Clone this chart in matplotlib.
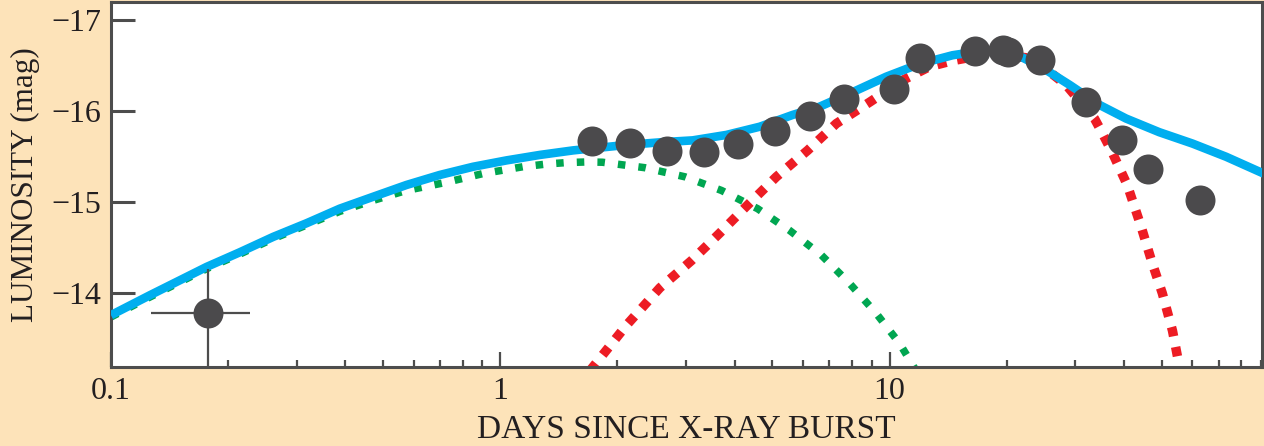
import matplotlib.pyplot as plt
from matplotlib.ticker import FixedLocator, NullFormatter, FixedFormatter

# observed points (days, magnitude)
obs_days = [1.72, 2.15, 2.68, 3.33, 4.09, 5.07, 6.23, 7.62, 10.24, 11.94,
            16.6, 19.6, 20.2, 24.4, 31.9, 39.6, 46.2, 62.9]
obs_mag = [-15.67, -15.65, -15.56, -15.55, -15.64, -15.78, -15.95, -16.13, -16.24, -16.58,
           -16.66, -16.67, -16.65, -16.56, -16.10, -15.68, -15.37, -15.02]

# early point with error bars
early_day = 0.177
early_mag = -13.78
early_xlo, early_xhi = 0.127, 0.228
early_ylo, early_yhi = -14.27, -13.0

# total model (blue)
tot_days = [0.1, 0.126, 0.153, 0.176, 0.214, 0.261, 0.318, 0.387, 0.471, 0.574, 0.699,
            0.851, 1.037, 1.263, 1.538, 1.80, 2.11, 2.60, 3.12, 3.81, 4.64, 5.64, 6.61,
            8.04, 9.81, 11.94, 14.51, 17.0, 19.2, 21.96, 25.3, 29.0, 34.6, 40.5, 49.3,
            60.0, 73.2, 92.0]
tot_mag = [-13.76, -13.98, -14.16, -14.29, -14.45, -14.62, -14.77, -14.93, -15.06, -15.19,
           -15.30, -15.39, -15.46, -15.52, -15.57, -15.60, -15.63, -15.66, -15.68, -15.74,
           -15.83, -15.96, -16.05, -16.21, -16.38, -16.52, -16.615, -16.66, -16.665, -16.59,
           -16.45, -16.29, -16.07, -15.92, -15.77, -15.645, -15.50, -15.31]

# cooling component (green)
cool_days = [0.1, 0.126, 0.153, 0.176, 0.214, 0.261, 0.318, 0.387, 0.471, 0.574, 0.728,
             0.902, 1.142, 1.314, 1.479, 1.665, 1.83, 2.35, 2.98, 3.70, 4.58, 5.54,
             6.68, 7.89, 9.24, 10.61, 11.7]
cool_mag = [-13.74, -13.96, -14.14, -14.27, -14.43, -14.60, -14.75, -14.90, -15.02, -15.13,
            -15.22, -15.315, -15.39, -15.42, -15.436, -15.443, -15.44, -15.38, -15.28,
            -15.13, -14.93, -14.69, -14.42, -14.11, -13.78, -13.45, -13.15]

# radioactive component (red)
rad_days = [1.70, 2.11, 2.57, 3.10, 3.66, 4.32, 5.12, 6.16, 7.30, 8.04, 8.89, 10.80, 12.67,
            14.51, 16.5, 19.2, 23.3, 28.4, 33.6, 35.2, 37.4, 40.8, 44.3, 47.3, 50.2, 53.3,
            55.8]
rad_mag = [-13.15, -13.65, -14.06, -14.36, -14.66, -14.97, -15.28, -15.57, -15.865, -15.98,
           -16.10, -16.34, -16.49, -16.555, -16.60, -16.62, -16.58, -16.29, -15.92, -15.76,
           -15.54, -15.19, -14.73, -14.33, -14.00, -13.59, -13.15]

bg = "#FDE3B9"
ink = "#231F20"
frame = "#4D4D4D"

plt.rcParams["font.family"] = ["Liberation Serif", "DejaVu Serif"]

fig = plt.figure(figsize=(12.64, 4.46), dpi=100, facecolor=bg)
ax = fig.add_axes([0.0878, 0.177, 0.9106, 0.8185])
ax.set_facecolor("white")

ax.plot(cool_days, cool_mag, color="#00A651", lw=5.4, linestyle=(0, (1, 1.75)),
        dash_capstyle="butt", zorder=2)
ax.plot(rad_days, rad_mag, color="#ED1C24", lw=6.8, linestyle=(0, (1, 1.15)),
        dash_capstyle="butt", zorder=2)
ax.plot(tot_days, tot_mag, color="#00AEEF", lw=6.2, solid_capstyle="butt",
        solid_joinstyle="round", zorder=3)

ax.errorbar([early_day], [early_mag],
            xerr=[[early_day - early_xlo], [early_xhi - early_day]],
            yerr=[[early_mag - early_ylo], [early_yhi - early_mag]],
            fmt="none", ecolor=frame, elinewidth=1.6, capsize=0, zorder=4)
ax.plot([early_day], [early_mag], "o", color="#4B4A4C", ms=21.6, mec="none", zorder=5)
ax.plot(obs_days, obs_mag, "o", color="#4B4A4C", ms=21.6, mec="none", zorder=5)

ax.set_xscale("log")
ax.set_xlim(0.1, 90.5)
ax.set_ylim(-13.19, -17.2)

ax.xaxis.set_major_locator(FixedLocator([0.1, 1, 10]))
ax.xaxis.set_major_formatter(FixedFormatter(["0.1", "1", "10"]))
minors = [m * d for d in (0.1, 1, 10) for m in range(2, 10)]
ax.xaxis.set_minor_locator(FixedLocator(minors))
ax.xaxis.set_minor_formatter(NullFormatter())
ax.set_yticks([-14, -15, -16, -17])
ax.set_yticklabels(["\u221214", "\u221215", "\u221216", "\u221217"])

ax.tick_params(axis="x", which="major", direction="in", length=11, width=1.6,
               color=frame, labelsize=23, labelcolor=ink, pad=7)
ax.tick_params(axis="x", which="minor", direction="in", length=5, width=1.6, color=frame)
ax.tick_params(axis="y", which="major", direction="in", length=17, width=2.2,
               color=frame, labelsize=23, labelcolor=ink, pad=7)

for s in ax.spines.values():
    s.set_color(frame)
    s.set_linewidth(2.2)

ax.set_xlabel("DAYS SINCE X-RAY BURST", fontsize=24, color=ink, labelpad=6)
ax.set_ylabel("LUMINOSITY (mag)", fontsize=22.4, color=ink)
ax.yaxis.set_label_coords(-0.062, 0.5)

fig.savefig("out.png", dpi=100, facecolor=bg)
